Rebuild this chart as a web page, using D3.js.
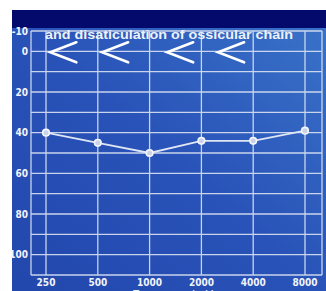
<!DOCTYPE html>
<html><head><meta charset="utf-8">
<script src="https://cdn.jsdelivr.net/npm/d3@7/dist/d3.min.js"></script>
<style>html,body{margin:0;padding:0;background:#fff;overflow:hidden}</style>
</head><body>
<svg id="c" width="326" height="291"></svg>
<script>
const frequencies = [250, 500, 1000, 2000, 4000, 8000];
const xTickLabels = ["250", "500", "1000", "2000", "4000", "8000"];
const acLevels = [40, 45, 50, 44, 44, 39];
const bcFreqs = [265, 530, 1265, 2500];
const bcLevels = [0, 0, 0, 0];
const yTickValues = [-10, 0, 20, 40, 60, 80, 100];
const gridLevels = d3.range(-10, 111, 10);
const title = "and disaticulation of ossicular chain";
const xTitle = "Frequency in Hz";

const svg = d3.select("#c");
const x = d3.scaleLog().base(2).domain([250, 8000]).range([46, 305]);
const y = d3.scaleLinear().domain([-10, 110]).range([31, 275]);
const left = 31, right = 322;

const defs = svg.append("defs");
const g = defs.append("linearGradient").attr("id","bg").attr("x1","0").attr("y1","1").attr("x2","1").attr("y2","0");
g.append("stop").attr("offset","0").attr("stop-color","#2247ad");
g.append("stop").attr("offset","0.5").attr("stop-color","#2953b8");
g.append("stop").attr("offset","1").attr("stop-color","#3a74c9");

svg.append("rect").attr("x",12).attr("y",10).attr("width",314).attr("height",281).attr("fill","url(#bg)");
svg.append("rect").attr("x",12).attr("y",10).attr("width",314).attr("height",18).attr("fill","#040a6c");

const grid = svg.append("g").attr("stroke","#dbe3f3").attr("stroke-width",1.3).attr("opacity",0.9);
grid.selectAll("line.h").data(gridLevels).join("line").attr("class","h")
  .attr("x1",left).attr("x2",right).attr("y1",d=>y(d)).attr("y2",d=>y(d));
grid.selectAll("line.v").data(frequencies).join("line").attr("class","v")
  .attr("x1",d=>x(d)).attr("x2",d=>x(d)).attr("y1",y(-10)).attr("y2",y(110));
grid.append("line").attr("x1",left).attr("x2",left).attr("y1",y(-10)).attr("y2",y(110));
grid.append("line").attr("x1",right).attr("x2",right).attr("y1",y(-10)).attr("y2",y(110));

const labFont = "'Liberation Sans Narrow','DejaVu Sans Condensed','Liberation Sans',Arial,sans-serif";
svg.append("g").selectAll("text").data(yTickValues).join("text")
  .attr("x",28).attr("y",d=>y(d)).attr("dy","0.35em").attr("text-anchor","end")
  .attr("fill","#f2f4fa").attr("font-family",labFont).attr("font-weight","bold").attr("font-size",10)
  .text(d=>d);
svg.append("g").selectAll("text").data(frequencies).join("text")
  .attr("x",d=>x(d)).attr("y",286).attr("text-anchor","middle")
  .attr("fill","#f2f4fa").attr("font-family",labFont).attr("font-weight","bold").attr("font-size",10)
  .text((d,i)=>xTickLabels[i]);
svg.append("text").attr("x",176).attr("y",299).attr("text-anchor","middle")
  .attr("fill","#e8eef8").attr("font-family","'Liberation Sans',Arial,sans-serif").attr("font-size",12)
  .text(xTitle);

svg.append("text").attr("x",45).attr("y",39).attr("fill","#eef2fa")
  .attr("font-family","'Liberation Sans',Arial,sans-serif").attr("font-weight","bold").attr("font-size",13.5)
  .attr("textLength",248).attr("lengthAdjust","spacingAndGlyphs").text(title);

svg.append("g").selectAll("path").data(bcFreqs.map((f,i)=>[f,bcLevels[i]])).join("path")
  .attr("d",d=>{const px=x(d[0]), py=y(d[1])+1; return `M${px+26},${py-10}L${px},${py}L${px+26},${py+10}`;})
  .attr("fill","none").attr("stroke","#ffffff").attr("stroke-width",2.6).attr("stroke-linecap","round");

const pts = frequencies.map((f,i)=>[f,acLevels[i]]);
svg.append("path").datum(pts)
  .attr("d",d3.line().x(d=>x(d[0])).y(d=>y(d[1])))
  .attr("fill","none").attr("stroke","#dfe6f4").attr("stroke-width",1.8);
svg.append("g").selectAll("circle").data(pts).join("circle")
  .attr("cx",d=>x(d[0])).attr("cy",d=>y(d[1])).attr("r",3.3)
  .attr("fill","#c9d3e8").attr("stroke","#f4f6fb").attr("stroke-width",1.6);
</script>
</body></html>
